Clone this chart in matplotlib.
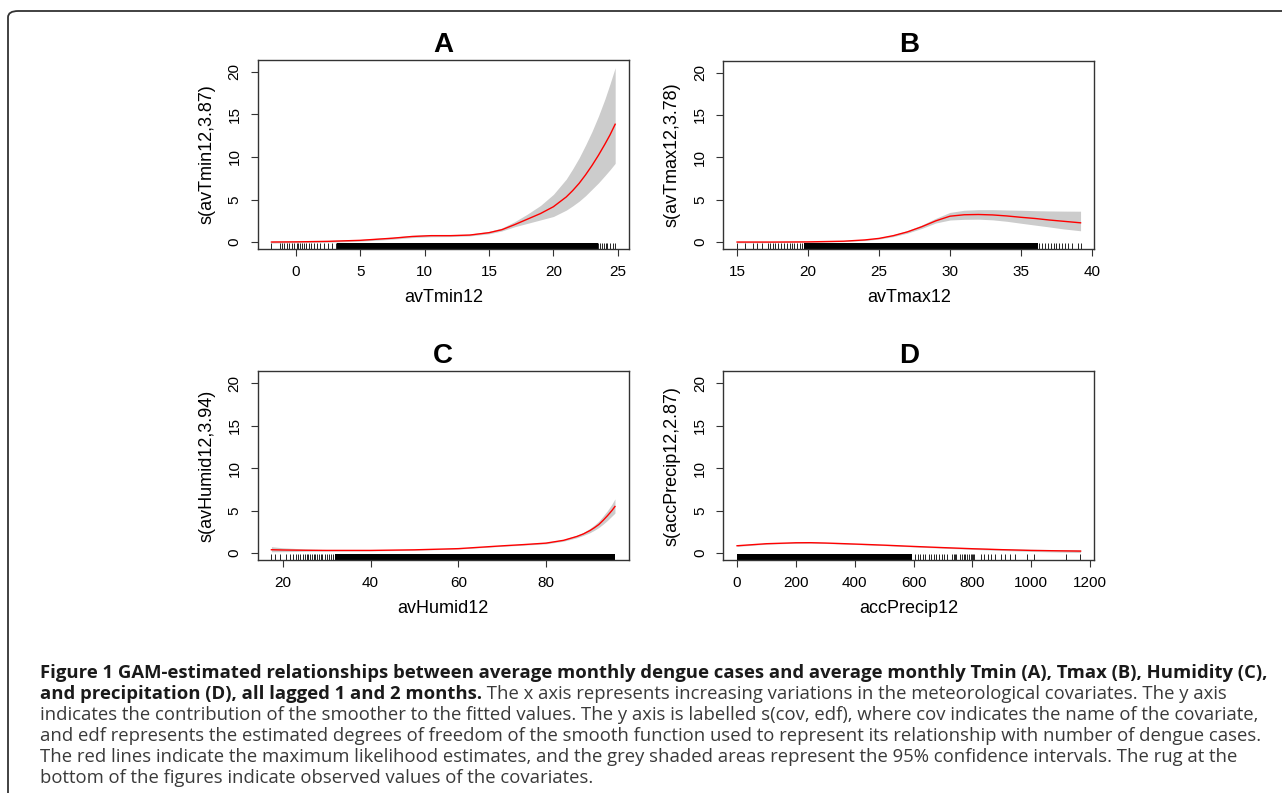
import matplotlib
matplotlib.use("Agg")
import matplotlib.pyplot as plt
from matplotlib.patches import FancyBboxPatch

plt.rcParams["font.family"] = ["Liberation Sans", "DejaVu Sans"]

# ── panel A: avTmin12 ────────────────────────────────────────────────
a_x = [-1.9, 0, 2.5, 5, 7.5, 9, 10.5, 12, 13.5, 15, 16, 17, 18, 19, 20, 21, 21.5, 22,
       22.5, 23, 23.5, 24, 24.4, 24.8]
a_fit = [0.0, 0.02, 0.08, 0.2, 0.45, 0.65, 0.75, 0.75, 0.82, 1.1, 1.45, 2.05, 2.7, 3.35,
         4.15, 5.3, 6.05, 6.9, 7.9, 9.0, 10.2, 11.5, 12.6, 13.85]
a_lo = [-0.12, -0.08, -0.02, 0.1, 0.33, 0.52, 0.62, 0.64, 0.72, 0.97, 1.3, 1.8, 2.2, 2.6,
        3.0, 3.75, 4.25, 4.8, 5.45, 6.2, 6.95, 7.8, 8.5, 9.25]
a_hi = [0.12, 0.12, 0.18, 0.3, 0.57, 0.78, 0.88, 0.86, 0.93, 1.25, 1.65, 2.4, 3.3, 4.3,
        5.6, 7.4, 8.6, 9.9, 11.4, 13.0, 14.8, 16.8, 18.6, 20.5]
a_rug = [-1.9, -1.25, -1.1, -0.9, -0.7, -0.5, -0.3, -0.15, 0.05, 0.2, 0.35, 0.5, 0.65, 0.8,
         1.0, 1.2, 1.4, 1.6, 1.9, 2.2, 2.5, 2.8, 3.1,
         23.5, 23.6, 23.8, 23.9, 24.1, 24.2, 24.4, 24.6, 24.8]
a_dense = (3.2, 23.45)

# ── panel B: avTmax12 ────────────────────────────────────────────────
b_x = [15, 17.5, 20, 22.5, 24, 25, 26, 27, 28, 29, 30, 31, 32, 33, 34, 35, 36, 37, 38, 39.2]
b_fit = [0.0, 0.0, 0.02, 0.1, 0.25, 0.43, 0.75, 1.2, 1.8, 2.5, 3.05, 3.22, 3.25, 3.2, 3.08,
         2.92, 2.78, 2.6, 2.45, 2.27]
b_lo = [-0.1, -0.06, -0.03, 0.05, 0.18, 0.35, 0.64, 1.05, 1.6, 2.25, 2.6, 2.68, 2.7, 2.62,
        2.45, 2.22, 2.0, 1.78, 1.55, 1.33]
b_hi = [0.1, 0.06, 0.07, 0.15, 0.32, 0.52, 0.86, 1.35, 2.0, 2.8, 3.5, 3.75, 3.82, 3.82,
        3.78, 3.75, 3.7, 3.67, 3.65, 3.64]
b_rug = [15.0, 15.55, 16.15, 16.4, 16.75, 17.2, 17.35, 17.5, 17.7, 17.9, 18.1, 18.3, 18.5,
         18.7, 18.85, 19.0, 19.2, 19.4, 19.6,
         36.3, 36.5, 36.7, 36.9, 37.1, 37.3, 37.5, 37.7, 37.9, 38.1, 38.3, 38.6, 39.0, 39.2]
b_dense = (19.75, 36.2)

# ── panel C: avHumid12 ───────────────────────────────────────────────
c_x = [17.4, 20, 25, 30, 40, 50, 60, 70, 75, 80, 84, 87, 88.5, 90, 91, 92, 93, 94, 95, 95.7]
c_fit = [0.39, 0.36, 0.33, 0.31, 0.31, 0.38, 0.52, 0.85, 1.0, 1.17, 1.5, 1.95, 2.25, 2.65,
         2.98, 3.35, 3.85, 4.4, 5.0, 5.48]
c_lo = [0.15, 0.16, 0.2, 0.22, 0.25, 0.33, 0.47, 0.79, 0.93, 1.08, 1.4, 1.8, 2.08, 2.4,
        2.68, 3.0, 3.4, 3.85, 4.35, 4.7]
c_hi = [0.75, 0.62, 0.48, 0.4, 0.37, 0.43, 0.57, 0.91, 1.07, 1.26, 1.6, 2.1, 2.43, 2.9,
        3.3, 3.75, 4.35, 5.0, 5.75, 6.38]
c_rug = [17.4, 18.2, 19.3, 20.8, 21.6, 22.3, 22.9, 23.5, 24.0, 24.5, 25.0, 25.4, 25.8, 26.2,
         26.6, 27.0, 27.4, 27.8, 28.2, 28.6, 29.0, 29.5, 30.0, 30.5, 31.0, 31.5]
c_dense = (32.0, 95.75)

# ── panel D: accPrecip12 ─────────────────────────────────────────────
d_x = [0, 100, 200, 250, 300, 400, 500, 600, 700, 800, 900, 1000, 1100, 1168]
d_fit = [0.86, 1.1, 1.21, 1.22, 1.18, 1.06, 0.93, 0.78, 0.64, 0.51, 0.4, 0.31, 0.26, 0.23]
d_lo = [0.78, 1.04, 1.16, 1.17, 1.13, 1.01, 0.88, 0.72, 0.57, 0.43, 0.3, 0.19, 0.11, 0.06]
d_hi = [0.94, 1.16, 1.26, 1.27, 1.23, 1.11, 0.98, 0.84, 0.71, 0.6, 0.51, 0.44, 0.41, 0.4]
d_rug = [606, 615, 623, 631, 640, 651, 660, 668, 676, 685, 696, 705, 713,
         732, 737, 742, 746, 759, 764, 770, 776, 781, 787, 794, 798, 803, 807,
         829, 841, 853, 862, 877, 898, 911, 928, 945, 985, 1008, 1118, 1166]
d_dense = (0, 594)

panels = [
    dict(title="A", x=a_x, fit=a_fit, lo=a_lo, hi=a_hi, rug=a_rug, dense=a_dense,
         xlabel="avTmin12", ylabel="s(avTmin12,3.87)", xticks=[0, 5, 10, 15, 20, 25],
         xlim=(-2.97, 25.87), pos=[0.2010, 0.6860, 0.2896, 0.2383]),
    dict(title="B", x=b_x, fit=b_fit, lo=b_lo, hi=b_hi, rug=b_rug, dense=b_dense,
         xlabel="avTmax12", ylabel="s(avTmax12,3.78)", xticks=[15, 20, 25, 30, 35, 40],
         xlim=(14.03, 40.17), pos=[0.5642, 0.6860, 0.2894, 0.2375]),
    dict(title="C", x=c_x, fit=c_fit, lo=c_lo, hi=c_hi, rug=c_rug, dense=c_dense,
         xlabel="avHumid12", ylabel="s(avHumid12,3.94)", xticks=[20, 40, 60, 80],
         xlim=(14.27, 98.83), pos=[0.2010, 0.2938, 0.2894, 0.2380]),
    dict(title="D", x=d_x, fit=d_fit, lo=d_lo, hi=d_hi, rug=d_rug, dense=d_dense,
         xlabel="accPrecip12", ylabel="s(accPrecip12,2.87)",
         xticks=[0, 200, 400, 600, 800, 1000, 1200],
         xlim=(-46.7, 1214.7), pos=[0.5642, 0.2938, 0.2894, 0.2380]),
]

caption_bold_1 = ("Figure 1 GAM-estimated relationships between average monthly dengue cases "
                  "and average monthly Tmin (A), Tmax (B), Humidity (C),")
caption_bold_2 = "and precipitation (D), all lagged 1 and 2 months."
caption_rest = [
    " The x axis represents increasing variations in the meteorological covariates. The y axis",
    "indicates the contribution of the smoother to the fitted values. The y axis is labelled "
    "s(cov, edf), where cov indicates the name of the covariate,",
    "and edf represents the estimated degrees of freedom of the smooth function used to "
    "represent its relationship with number of dengue cases.",
    "The red lines indicate the maximum likelihood estimates, and the grey shaded areas "
    "represent the 95% confidence intervals. The rug at the",
    "bottom of the figures indicate observed values of the covariates.",
]

W, H = 1282, 793
fig = plt.figure(figsize=(W / 100, H / 100), dpi=100)

# rounded frame around the figure panel
frame = FancyBboxPatch((8 / W, -0.1), 1.2, 1 - 11 / H + 0.1,
                       boxstyle="round,pad=0,rounding_size=0.008",
                       transform=fig.transFigure, fill=False,
                       edgecolor="#333333", linewidth=1.3)
fig.patches.append(frame)

tick_font = ["Liberation Sans Narrow", "Liberation Sans", "DejaVu Sans"]

for p in panels:
    ax = fig.add_axes(p["pos"])
    ax.fill_between(p["x"], p["lo"], p["hi"], color="#cccccc", linewidth=0)
    ax.plot(p["x"], p["fit"], color="red", linewidth=1.0)

    # rug: dense block plus single ticks
    ax.axvspan(p["dense"][0], p["dense"][1], ymin=0, ymax=0.032, color="black", linewidth=0)
    ax.vlines(p["rug"], 0, 0.032, transform=ax.get_xaxis_transform(),
              color="black", linewidth=0.6)

    ax.set_xlim(*p["xlim"])
    ax.set_ylim(-0.82, 21.4)
    ax.set_xticks(p["xticks"])
    ax.set_yticks([0, 5, 10, 15, 20])
    ax.tick_params(length=5, width=0.8, pad=6.5, labelsize=11, color="#333333")
    for lab in ax.get_xticklabels():
        lab.set_family(tick_font)
    for lab in ax.get_yticklabels():
        lab.set_family(tick_font)
        lab.set_rotation(90)
        lab.set_va("center")
    for s in ax.spines.values():
        s.set_color("#333333")
        s.set_linewidth(1.0)
    ax.set_xlabel(p["xlabel"], fontsize=13, labelpad=7)
    ax.set_ylabel(p["ylabel"], fontsize=13, labelpad=9)
    ax.set_title(p["title"], fontsize=20, fontweight="bold", pad=6)

# caption
cap_font = ["Open Sans", "DejaVu Sans"]
cap_size = 13.3
x0 = 40 / W
ys = [673, 694, 715, 736, 757, 778]
fig.text(x0, 1 - ys[0] / H, caption_bold_1, family=cap_font, fontsize=cap_size,
         fontweight="bold", color="#1a1a1a", va="center")
b2 = fig.text(x0, 1 - ys[1] / H, caption_bold_2, family=cap_font, fontsize=cap_size,
              fontweight="bold", color="#1a1a1a", va="center")
plt.annotate(caption_rest[0], xy=(1, 0), xycoords=b2, va="bottom", ha="left",
             family=cap_font, fontsize=cap_size, color="#3a3a3a", annotation_clip=False)
for line, y in zip(caption_rest[1:], ys[2:]):
    fig.text(x0, 1 - y / H, line, family=cap_font, fontsize=cap_size, color="#3a3a3a",
             va="center")

fig.savefig("out.png", dpi=100)
